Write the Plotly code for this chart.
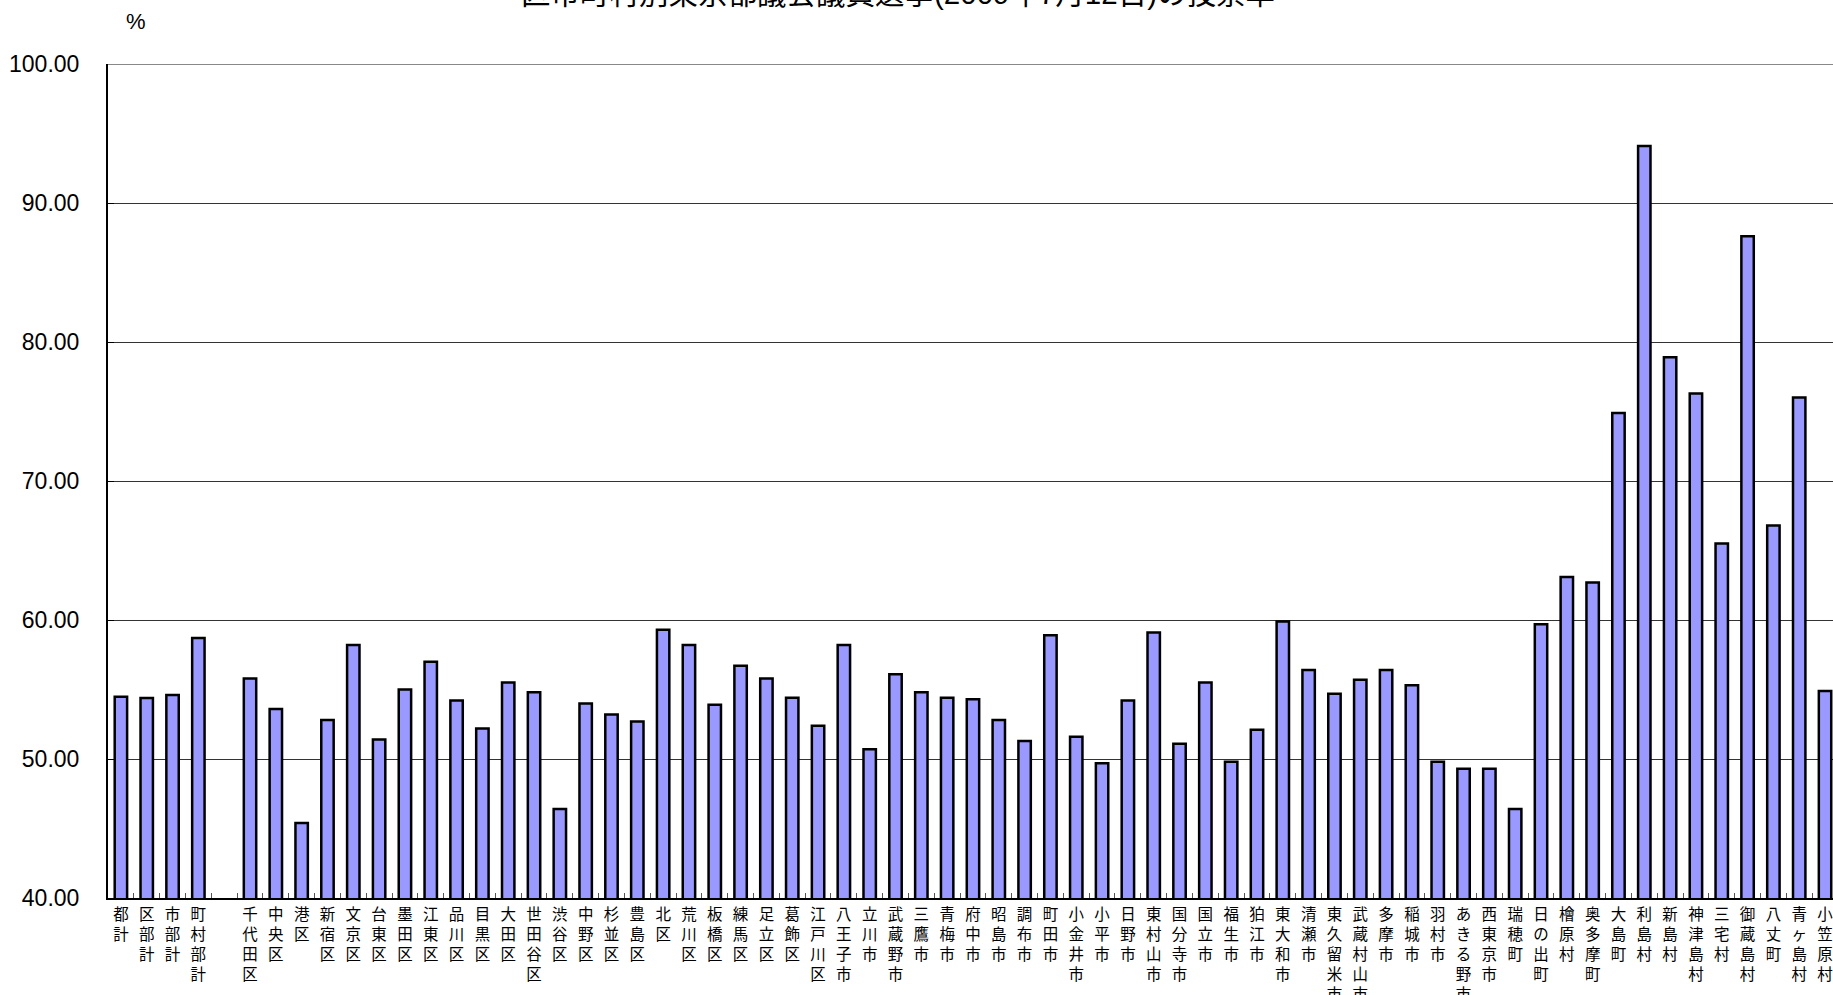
import plotly.graph_objects as go

# ---- data ----
categories = [
    "都計", "区部計", "市部計", "町村部計", "",
    "千代田区", "中央区", "港区", "新宿区", "文京区", "台東区", "墨田区", "江東区",
    "品川区", "目黒区", "大田区", "世田谷区", "渋谷区", "中野区", "杉並区", "豊島区",
    "北区", "荒川区", "板橋区", "練馬区", "足立区", "葛飾区", "江戸川区",
    "八王子市", "立川市", "武蔵野市", "三鷹市", "青梅市", "府中市", "昭島市", "調布市",
    "町田市", "小金井市", "小平市", "日野市", "東村山市", "国分寺市", "国立市", "福生市",
    "狛江市", "東大和市", "清瀬市", "東久留米市", "武蔵村山市", "多摩市", "稲城市",
    "羽村市", "あきる野市", "西東京市",
    "瑞穂町", "日の出町", "檜原村", "奥多摩町", "大島町", "利島村", "新島村", "神津島村",
    "三宅村", "御蔵島村", "八丈町", "青ヶ島村", "小笠原村",
]
turnout = [
    54.48, 54.39, 54.60, 58.70, None,
    55.8, 53.6, 45.4, 52.8, 58.2, 51.4, 55.0, 57.0,
    54.2, 52.2, 55.5, 54.8, 46.4, 54.0, 53.2, 52.7,
    59.3, 58.2, 53.9, 56.7, 55.8, 54.4, 52.4,
    58.2, 50.7, 56.1, 54.8, 54.4, 54.3, 52.8, 51.3,
    58.9, 51.6, 49.7, 54.2, 59.1, 51.1, 55.5, 49.8,
    52.1, 59.9, 56.4, 54.7, 55.7, 56.4, 55.3,
    49.8, 49.3, 49.3,
    46.4, 59.7, 63.1, 62.7, 74.9, 94.1, 78.9, 76.3,
    65.5, 87.6, 66.8, 76.0, 54.9,
]
y_ticks = [40, 50, 60, 70, 80, 90, 100]
title_text = "区市町村別東京都議会議員選挙(2009年7月12日)の投票率"
unit_text = "%"

# vertical (one character per line) labels
labels = ["<br>".join(list(c)) if c else " " for c in categories]

W, H = 1833, 995
L, T = 108, 64
B = H - 898
plot_w = W - L
plot_h = H - T - B
cat_px = 25.82
x_end = -0.5 + plot_w / cat_px


def px_x(page_x):
    return (page_x - L) / plot_w


def px_y(page_y):
    return (T + plot_h - page_y) / plot_h


fig = go.Figure()
fig.add_trace(go.Bar(
    x=labels, y=turnout,
    marker=dict(color="#9999FF", line=dict(color="#000000", width=2.5)),
    hoverinfo="x+y",
))

fig.update_layout(
    width=W, height=H,
    margin=dict(l=L, r=0, t=T, b=B, pad=0, autoexpand=False),
    paper_bgcolor="white", plot_bgcolor="white",
    bargap=0.52,
    showlegend=False,
    font=dict(family="Liberation Sans, Arial, Noto Sans CJK JP", color="black"),
    xaxis=dict(
        type="category",
        automargin=False,
        range=[-0.5, x_end],
        showline=True, linecolor="#000000", linewidth=2,
        ticks="inside", tickson="boundaries", ticklen=5, tickcolor="#555555", tickwidth=1,
        showgrid=False,
        tickangle=0,
        ticklabeloverflow="allow",
        tickfont=dict(family="Noto Sans CJK JP", size=15.5, color="black"),
        ticklabelstandoff=1,
    ),
    yaxis=dict(
        automargin=False,
        range=[40, 100],
        tickvals=y_ticks,
        tickformat=".2f",
        showline=True, linecolor="#000000", linewidth=2,
        ticks="inside", ticklen=6, tickcolor="#000000",
        showgrid=True, gridcolor="#333333", gridwidth=1,
        zeroline=False,
        tickfont=dict(family="Liberation Sans, Arial", size=23, color="black"),
        ticklabelstandoff=22,
    ),
    shapes=[dict(type="line", xref="paper", yref="y", x0=0, x1=1, y0=100, y1=100,
                 line=dict(color="#888888", width=2))],
    annotations=[
        dict(text=title_text, xref="paper", yref="paper",
             x=px_x(898), y=px_y(-7), xanchor="center", yanchor="middle",
             showarrow=False,
             font=dict(family="Liberation Sans, Noto Sans CJK JP", size=29.5, color="black")),
        dict(text=unit_text, xref="paper", yref="paper",
             x=px_x(136), y=px_y(21), xanchor="center", yanchor="middle",
             showarrow=False,
             font=dict(family="Liberation Sans, Arial", size=22, color="black")),
    ],
)

fig.write_html(
    "out.html",
    config={"displayModeBar": False},
    post_script=(
        "document.body.style.margin='0';"
        "document.body.style.overflow='hidden';"
        "document.documentElement.style.overflow='hidden';"
    ),
)
